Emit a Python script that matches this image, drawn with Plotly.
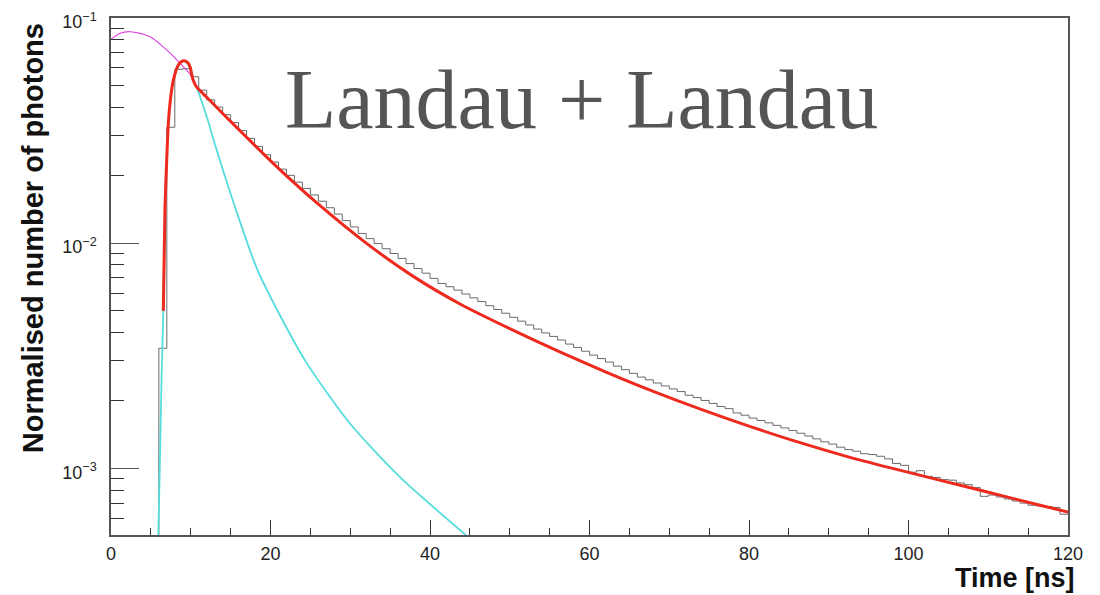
import plotly.graph_objects as go
import math

# ---------------- data ----------------
bin_edges = list(range(0, 121))  # 1 ns bins, 0..120 ns
hist_counts = [
    0, 0, 0, 0, 0, 0, 3.41e-3, 0.0327, 0.0592, 0.0595,
    0.0548, 0.0478, 0.0433, 0.0402, 0.0372, 0.0343, 0.0316, 0.0292, 0.0269, 0.0247,
    0.0229, 0.0213, 0.0200, 0.01866, 0.0175, 0.01637, 0.01535, 0.01436, 0.01346, 0.01259,
    0.0118, 0.01104, 0.01047, 0.00995, 0.00944, 0.00899, 0.00855, 0.00811, 0.00771, 0.00735,
    0.00697, 0.00662, 0.0064, 0.00618, 0.00594, 0.00571, 0.0055, 0.00527, 0.00507, 0.00488,
    0.00468, 0.0045, 0.00433, 0.00415, 0.00399, 0.00385, 0.00371, 0.00356, 0.00344, 0.00331,
    0.00318, 0.00307, 0.00296, 0.00284, 0.00274, 0.00264, 0.00254, 0.00247, 0.00239, 0.00232,
    0.00225, 0.00219, 0.00211, 0.00206, 0.0020, 0.00194, 0.00188, 0.00184, 0.00176, 0.00172,
    0.00167, 0.00163, 0.00159, 0.00155, 0.00151, 0.00147, 0.00143, 0.00139, 0.00135, 0.00131,
    0.00128, 0.00124, 0.00121, 0.00119, 0.00116, 0.00115, 0.00113, 0.00110, 0.00105, 0.00103,
    0.00096, 0.000975, 0.00092, 0.00091, 0.00089, 0.000885, 0.00086, 0.000845, 0.00082, 0.00075,
    0.00076, 0.000745, 0.00073, 0.000715, 0.0007, 0.000685, 0.00068, 0.000675, 0.00067, 0.000625,
]

# total fit (red)
fit_x = [6.56, 6.77, 7.0, 7.19, 7.5, 7.82, 8.44, 9.07, 9.6, 9.9, 10.3, 10.7, 12, 14, 17, 21,
         26, 32, 38, 44, 50, 56, 62, 68, 74, 80, 86, 92, 98, 104, 110, 116, 120]
fit_y = [5.0e-3, 0.0145, 0.024, 0.034, 0.045, 0.053, 0.0618, 0.0646, 0.0635, 0.0608, 0.053, 0.04955,
         0.04446, 0.03767, 0.02951, 0.02148, 0.01489, 0.0100, 0.007079, 0.005309, 0.004169, 0.003319,
         0.002679, 0.002193, 0.001824, 0.001538, 0.001312, 0.001135, 0.000998, 0.000883, 0.000782,
         0.000692, 0.000638]

# fast Landau component (cyan)
fast_x = [5.93, 6.14, 6.35, 6.56, 6.77, 7.19, 7.82, 8.44, 9.07, 9.9, 10.3, 10.7, 12, 13.25, 15.76,
          18.27, 20.98, 24.54, 29.97, 36.24, 44.51]
fast_y = [5.05e-4, 1.1e-3, 2.6e-3, 5.0e-3, 0.0145, 0.034, 0.053, 0.0618, 0.0646, 0.0608, 0.053, 0.0496,
          0.0365, 0.0259, 0.01374, 7.74e-3, 4.93e-3, 2.93e-3, 1.58e-3, 9.12e-4, 5.04e-4]

# slow Landau component (magenta)
slow_x = [0, 1.13, 2.4, 4.9, 7.0, 8.65, 10.3, 10.7]
slow_y = [0.0804, 0.0855, 0.0869, 0.0826, 0.072, 0.063, 0.054, 0.0496]

x_ticks = [0, 20, 40, 60, 80, 100, 120]
y_ticks = [1e-1, 1e-2, 1e-3]
y_ticklabels = ["10<sup>\u22121</sup>", "10<sup>\u22122</sup>", "10<sup>\u22123</sup>"]
y_min, y_max = 5.05e-4, 1e-1
LOG_FLOOR = 1e-6  # empty bins drawn below the visible range

# ---------------- figure ----------------
hx = []
hy = []
for i, c in enumerate(hist_counts):
    hx.append(bin_edges[i])
    hy.append(c if c > 0 else LOG_FLOOR)
hx.append(bin_edges[-1])
hy.append(hy[-1])

fig = go.Figure()
fig.add_trace(go.Scatter(x=hx, y=hy, mode="lines", line=dict(shape="hv", color="#6a6a6a", width=1),
                         hoverinfo="skip"))
fig.add_trace(go.Scatter(x=slow_x, y=slow_y, mode="lines",
                         line=dict(shape="spline", smoothing=0.8, color="#dd44dd", width=1.2)))
fig.add_trace(go.Scatter(x=fast_x, y=fast_y, mode="lines",
                         line=dict(shape="spline", smoothing=0.7, color="#55dddd", width=1.8)))
fig.add_trace(go.Scatter(x=fit_x, y=fit_y, mode="lines",
                         line=dict(shape="spline", smoothing=0.7, color="#ee2a1e", width=3)))

minor_y = [k * 10 ** e for e in (-4, -3, -2) for k in range(2, 10) if y_min <= k * 10 ** e <= y_max]

# the page body adds an 8 px margin, so the figure is 8 px smaller than the window
fig.update_layout(
    width=1092, height=587,
    margin=dict(l=103, r=32, t=10, b=60),
    paper_bgcolor="white", plot_bgcolor="white",
    showlegend=False,
    font=dict(family="Liberation Sans, Arial, sans-serif", color="#222"),
    xaxis=dict(
        range=[0, 120], showgrid=False, zeroline=False, automargin=False,
        showline=True, linecolor="#555", linewidth=1.5, mirror=True,
        ticks="inside", ticklen=15, tickwidth=1.2, tickcolor="#333",
        tickvals=x_ticks, tickfont=dict(size=18, color="#222"),
        ticklabelstandoff=2, ticklabeloverflow="allow",
        minor=dict(ticks="inside", dtick=5, ticklen=7, tickwidth=1.2, tickcolor="#333"),
    ),
    yaxis=dict(
        type="log", range=[math.log10(y_min), math.log10(y_max)], showgrid=False, zeroline=False,
        automargin=False,
        showline=True, linecolor="#555", linewidth=1.5, mirror=True,
        ticks="inside", ticklen=28, tickwidth=1.2, tickcolor="#555",
        tickvals=y_ticks, ticktext=y_ticklabels, tickfont=dict(size=18, color="#222"),
        ticklabelstandoff=9, ticklabelshift=4, ticklabeloverflow="allow",
        minor=dict(ticks="inside", tickmode="array", tickvals=minor_y, ticklen=13,
                   tickwidth=1.2, tickcolor="#333"),
    ),
    annotations=[
        dict(text="Landau + Landau", xref="paper", yref="paper", x=0.492, y=0.842,
             xanchor="center", yanchor="middle", showarrow=False,
             font=dict(family="Liberation Serif, Times New Roman, serif", size=84, color="#555")),
        dict(text="<b>Time [ns]</b>", xref="paper", yref="paper", x=1.0094, y=-0.083,
             xanchor="right", yanchor="middle", showarrow=False,
             font=dict(family="Liberation Sans, Arial, sans-serif", size=27, color="#111")),
        dict(text="<b>Normalised number of photons</b>", xref="paper", yref="paper",
             x=-0.0815, y=0.574, xanchor="center", yanchor="middle", textangle=-90, showarrow=False,
             font=dict(family="Liberation Sans, Arial, sans-serif", size=29, color="#111")),
    ],
)

fig.write_html("out.html")
